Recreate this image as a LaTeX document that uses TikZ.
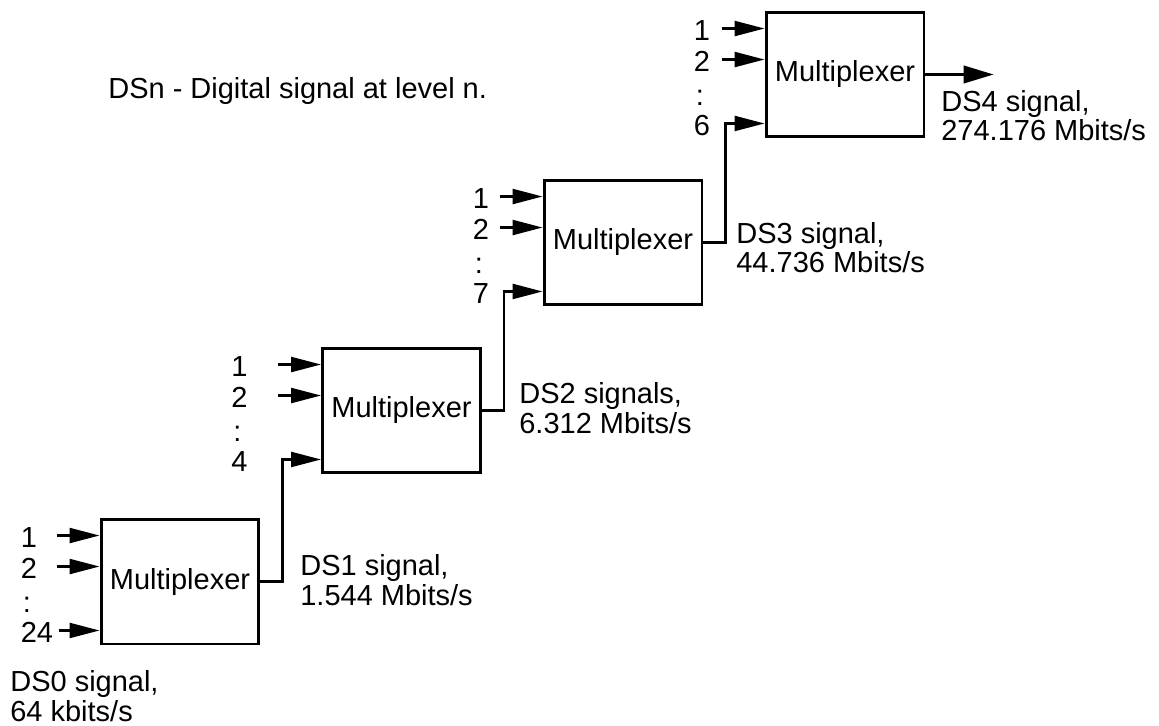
\documentclass[tikz,border=0pt]{standalone}
\usepackage{fontspec}
\setmainfont{Liberation Sans}
\usetikzlibrary{arrows.meta,calc}

\tikzset{
  mux/.style={draw,line width=1.7pt,minimum width=3.16cm,minimum height=2.5cm,inner sep=0pt,font=\fontsize{16.5}{17}\selectfont},
  wire/.style={line width=1.3pt},
  feed/.style={wire,-{Triangle[length=17pt,width=8.5pt]}},
  lbl/.style={inner sep=0pt,anchor=base west,font=\fontsize{16.5}{17}\selectfont},
}

\begin{document}
\begin{tikzpicture}[x=0.02cm,y=-0.02cm]
\useasboundingbox (0,0) rectangle (1159,726);

% the four multiplexers
\node[mux] (m1) at (180,581.5) {Multiplexer};
\node[mux] (m2) at (401.5,410.5) {Multiplexer};
\node[mux] (m3) at (623,242.5) {Multiplexer};
\node[mux] (m4) at (845,74.5) {Multiplexer};

% inputs of each multiplexer
\foreach \m/\dx/\n in {m1/79/24,m2/90/4,m3/70/7,m4/71/6}{
  \coordinate (\m-i1) at ($(\m.north west)+(0,18)$);
  \coordinate (\m-i2) at ($(\m.north west)+(0,49)$);
  \coordinate (\m-i3) at ($(\m.south west)+(0,-15)$);
  \coordinate (\m-t1) at ($(\m-i1)+(-43,0)$);
  \coordinate (\m-t2) at ($(\m-i2)+(-43,0)$);
  \draw[feed] (\m-t1) -- (\m-i1);
  \draw[feed] (\m-t2) -- (\m-i2);
  \node[lbl] (\m-n1) at ($(\m-i1)+(-\dx,12)$) {1};
  \node[lbl] (\m-n2) at ($(\m-i2)+(-\dx,12)$) {2};
  \node[lbl] (\m-dots) at ($(\m-i3)+(2-\dx,-18)$) {:};
  \node[lbl] (\m-n3) at ($(\m-i3)+(-\dx,12)$) {\n};
}
\coordinate (m1-t3) at ($(m1-i3)+(-41,0)$);
\draw[feed] (m1-t3) -- (m1-i3);

% level to level
\draw[feed] (m1.east) -- ++(22,0) |- (m2-i3);
\draw[feed] (m2.east) -- ++(22,0) |- (m3-i3);
\draw[feed] (m3.east) -- ++(22,0) |- (m4-i3);
\coordinate (out) at ($(m4.east)+(68,0)$);
\draw[wire,-{Triangle[length=17pt,width=10pt]}] (m4.east) -- (out);

% rates (base is the second line)
\node[lbl,align=left] (ds0) at (10,721) {DS0 signal,\\64 kbits/s};
\node[lbl,align=left] (ds1) at (300,605) {DS1 signal,\\1.544 Mbits/s};
\node[lbl,align=left] (ds2) at (519,433) {DS2 signals,\\6.312 Mbits/s};
\node[lbl,align=left] (ds3) at (736,273) {DS3 signal,\\44.736 Mbits/s};
\node[lbl,align=left] (ds4) at (941,141) {DS4 signal,\\274.176 Mbits/s};
\node[lbl] (key) at (108,99) {DSn - Digital signal at level n.};
\end{tikzpicture}
\end{document}
